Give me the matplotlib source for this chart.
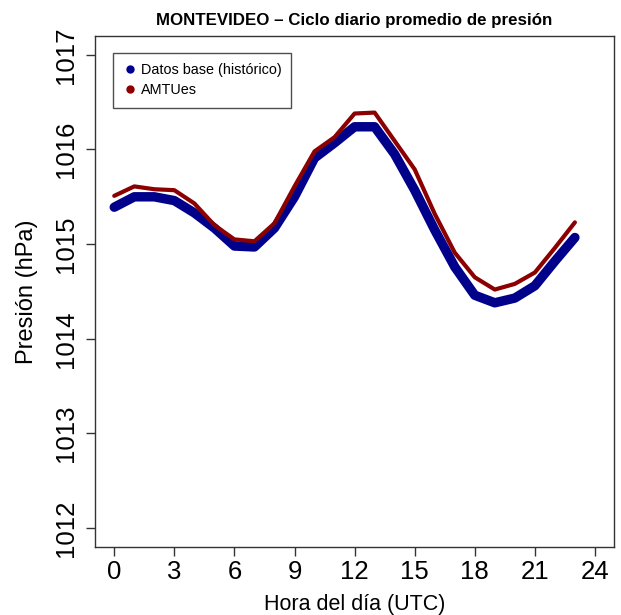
import matplotlib
matplotlib.use("Agg")
import matplotlib.pyplot as plt
from matplotlib.lines import Line2D

plt.rcParams['font.family'] = ['Liberation Sans', 'DejaVu Sans']

# Ciclo diario de presión (hPa), horas UTC 0..23
horas = list(range(24))
base = [1015.39, 1015.50, 1015.50, 1015.46, 1015.33, 1015.17, 1014.98, 1014.97,
        1015.17, 1015.50, 1015.91, 1016.07, 1016.24, 1016.24, 1015.95, 1015.57,
        1015.15, 1014.76, 1014.46, 1014.38, 1014.43, 1014.56, 1014.82, 1015.07]
amtues = [1015.51, 1015.61, 1015.58, 1015.57, 1015.43, 1015.20, 1015.05, 1015.03,
          1015.22, 1015.61, 1015.98, 1016.13, 1016.38, 1016.39, 1016.09, 1015.79,
          1015.32, 1014.91, 1014.65, 1014.52, 1014.58, 1014.70, 1014.96, 1015.23]

xticks = list(range(0, 25, 3))
yticks = [1012, 1013, 1014, 1015, 1016, 1017]

fig = plt.figure(figsize=(6.21, 6.15), dpi=100)
ax = fig.add_axes([0.153, 0.1106, 0.836, 0.831])

ax.plot(horas, base, color="#00008B", lw=6.8, solid_capstyle="round", solid_joinstyle="round")
ax.plot(horas, amtues, color="#8B0000", lw=3, solid_capstyle="round", solid_joinstyle="round")

ax.set_xlim(-0.96, 24.96)
ax.set_ylim(1011.8, 1017.2)
ax.set_xticks(xticks)
ax.set_yticks(yticks)
ax.tick_params(axis="both", direction="out", length=6.5, width=1, labelsize=18.5,
               color="#333333")
ax.tick_params(axis="x", pad=3)
ax.tick_params(axis="y", pad=6)
ax.set_yticklabels([str(v) for v in yticks], rotation=90, va="center")
for s in ax.spines.values():
    s.set_linewidth(1)
    s.set_color("#333333")

ax.set_xlabel("Hora del día (UTC)", fontsize=15.5, labelpad=7)
ax.set_ylabel("Presión (hPa)", fontsize=17, labelpad=11)
ax.set_title("MONTEVIDEO – Ciclo diario promedio de presión", fontsize=12.2,
             fontweight="bold", pad=8)

handles = [Line2D([], [], marker="o", ls="", color="#00008B", markersize=5),
           Line2D([], [], marker="o", ls="", color="#8B0000", markersize=5)]
leg = ax.legend(handles, ["Datos base (histórico)", "AMTUes"], loc="upper left",
                bbox_to_anchor=(0.035, 0.967), fontsize=10.4, frameon=True,
                fancybox=False, handletextpad=0.3, labelspacing=0.45,
                borderpad=0.7, handlelength=0.9, borderaxespad=0)
leg.get_frame().set_edgecolor("#222222")
leg.get_frame().set_linewidth(1)

fig.savefig("out.png", dpi=100)
